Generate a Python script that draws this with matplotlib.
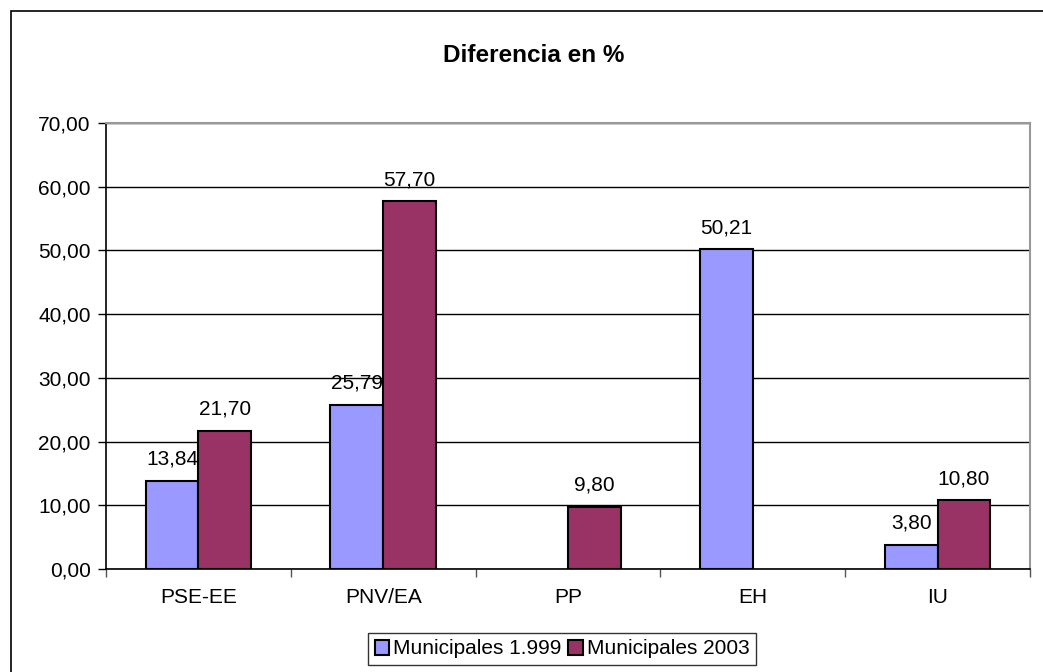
import numpy as np
import matplotlib.pyplot as plt
from matplotlib.patches import Rectangle

plt.rcParams['font.family'] = ['Liberation Sans', 'DejaVu Sans']

# datos
partidos = ["PSE-EE", "PNV/EA", "PP", "EH", "IU"]
mun_1999 = [13.84, 25.79, 0, 50.21, 3.80]
mun_2003 = [21.70, 57.70, 9.80, 0, 10.80]

W, H = 1043, 672
fig = plt.figure(figsize=(W / 100, H / 100), dpi=100)
ax = fig.add_axes([106 / W, 1 - 569 / H, (1030 - 106) / W, (569 - 123) / H])

# marco exterior
fig.patches.append(Rectangle((11 / W, -0.1), 1.2, 1 - 11 / H + 0.1,
                             transform=fig.transFigure, fill=False,
                             edgecolor="black", linewidth=1.2))

x = np.arange(len(partidos))
bw = 1 / 3.5
b1 = ax.bar(x - bw / 2, mun_1999, bw, color="#9999FF", edgecolor="black",
            linewidth=1.5, label="Municipales 1.999", zorder=3)
b2 = ax.bar(x + bw / 2, mun_2003, bw, color="#993366", edgecolor="black",
            linewidth=1.5, label="Municipales 2003", zorder=3)
for bars in (b1, b2):
    for r in bars:
        if r.get_height() == 0:
            r.set_visible(False)

for bars in (b1, b2):
    for r in bars:
        h = r.get_height()
        if h > 0:
            ax.text(r.get_x() + r.get_width() / 2, h + 2.5, f"{h:.2f}".replace(".", ","),
                    ha="center", va="baseline", fontsize=15)

ax.set_xlim(-0.5, len(partidos) - 0.5)
ax.set_ylim(0, 70)
ax.set_yticks(np.arange(0, 71, 10))
ax.set_yticklabels([f"{v:.2f}".replace(".", ",") for v in np.arange(0, 71, 10)],
                   fontsize=15)
ax.yaxis.grid(True, color="black", linewidth=1, zorder=0)
ax.set_axisbelow(True)

ax.set_xticks(x)
ax.set_xticklabels(partidos, fontsize=15)
ax.tick_params(axis="x", length=0, pad=14)
ax.set_xticks(np.arange(-0.5, len(partidos)), minor=True)
ax.tick_params(axis="x", which="minor", length=6, width=1, color="#555555")
ax.tick_params(axis="y", length=6, width=1, pad=5)

for s in ["left", "bottom"]:
    ax.spines[s].set_color("black")
    ax.spines[s].set_linewidth(1.2)
for s in ["top", "right"]:
    ax.spines[s].set_color("#999999")
    ax.spines[s].set_linewidth(1.5)

fig.text(534 / W, 1 - 55 / H, "Diferencia en %", ha="center", va="center",
         fontsize=17.5, fontweight="bold")

leg = fig.legend(loc="center", bbox_to_anchor=(562 / W, 1 - 649 / H), ncol=2,
                 fontsize=15, frameon=True, fancybox=False, edgecolor="black",
                 handlelength=0.7, handleheight=0.7, handletextpad=0.2,
                 columnspacing=0.3, borderpad=0.3, borderaxespad=0)
leg.get_frame().set_linewidth(1)

fig.savefig("out.png", dpi=100)
